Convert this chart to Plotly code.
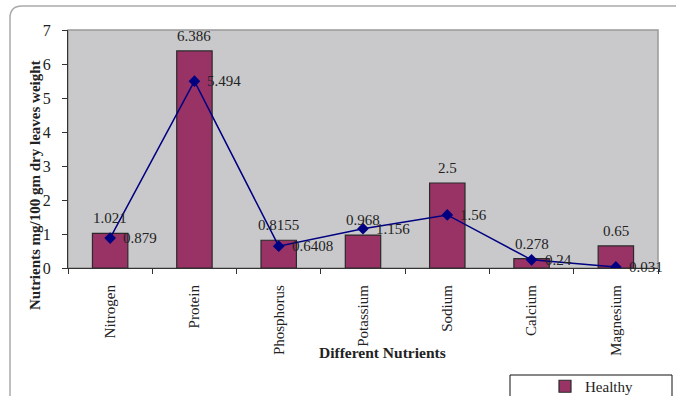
import plotly.graph_objects as go

# Nutrient content (mg/100 gm dry leaves weight)
nutrients = ["Nitrogen", "Protein", "Phosphorus", "Potassium", "Sodium", "Calcium", "Magnesium"]
healthy = [1.021, 6.386, 0.8155, 0.968, 2.5, 0.278, 0.65]
diseased = [0.879, 5.494, 0.6408, 1.156, 1.56, 0.24, 0.031]
healthy_labels = ["1.021", "6.386", "0.8155", "0.968", "2.5", "0.278", "0.65"]
diseased_labels = ["0.879", "5.494", "0.6408", "1.156", "1.56", "0.24", "0.031"]
y_ticks = [0, 1, 2, 3, 4, 5, 6, 7]

W, H = 676, 396
ML, MR, MT, MB = 68, 18, 30, 128
PW, PH = W - ML - MR, H - MT - MB


def px_x(x):
    return (x - ML) / PW


def px_y(y):
    return (H - MB - y) / PH


SERIF = "Liberation Serif, Times New Roman, serif"
TXT = "#222222"
FS = 15

fig = go.Figure()
fig.add_trace(go.Bar(
    x=nutrients, y=healthy, name="Healthy",
    marker=dict(color="#993366", line=dict(color="#2a2a2a", width=1.2)),
))
fig.add_trace(go.Scatter(
    x=nutrients, y=diseased, name="Diseased", mode="lines+markers",
    line=dict(color="#000080", width=1.5),
    marker=dict(symbol="diamond", size=9, color="#000080"),
))

annotations = []
for cat, v, lab in zip(nutrients, healthy, healthy_labels):
    annotations.append(dict(x=cat, y=v, text=lab, showarrow=False, xanchor="center",
                            yanchor="bottom", yshift=5, font=dict(family=SERIF, size=FS, color=TXT)))
for cat, v, lab in zip(nutrients, diseased, diseased_labels):
    annotations.append(dict(x=cat, y=v, text=lab, showarrow=False, xanchor="left",
                            yanchor="middle", xshift=11, font=dict(family=SERIF, size=FS, color=TXT)))
annotations.append(dict(xref="paper", yref="paper", x=px_x(35), y=px_y(185), textangle=-90,
                        text="<b>Nutrients mg/100 gm dry leaves weight</b>", showarrow=False,
                        xanchor="center", yanchor="middle", font=dict(family=SERIF, size=FS, color=TXT)))
annotations.append(dict(xref="paper", yref="paper", x=px_x(382), y=px_y(352),
                        text="<b>Different Nutrients</b>", showarrow=False,
                        xanchor="center", yanchor="middle", font=dict(family=SERIF, size=15.5, color=TXT)))

shapes = [
    # outer chart frame with rounded top-left corner
    dict(type="path", xref="paper", yref="paper",
         path=f"M {px_x(700)},{px_y(6)} L {px_x(22)},{px_y(6)} Q {px_x(10)},{px_y(6)} {px_x(10)},{px_y(18)} L {px_x(10)},{px_y(410)}",
         line=dict(color="#aaaaaa", width=1.5), layer="below"),
    # plot area border
    dict(type="rect", xref="paper", yref="paper", x0=0, x1=1, y0=0, y1=1,
         line=dict(color="#999999", width=1.5), layer="below"),
    # legend box
    dict(type="rect", xref="paper", yref="paper", x0=px_x(510), x1=px_x(672), y0=px_y(430), y1=px_y(375),
         line=dict(color="#111111", width=1), fillcolor="white", layer="below"),
]

fig.update_layout(
    width=W, height=H,
    margin=dict(l=ML, r=MR, t=MT, b=MB, pad=0, autoexpand=False),
    paper_bgcolor="white", plot_bgcolor="#c9c9cb",
    bargap=0.58,
    showlegend=True,
    legend=dict(x=px_x(545), y=px_y(370), xanchor="left", yanchor="top",
                bgcolor="rgba(0,0,0,0)", borderwidth=0,
                font=dict(family=SERIF, size=FS, color=TXT), tracegroupgap=0),
    annotations=annotations,
    shapes=shapes,
    font=dict(family=SERIF, size=FS, color=TXT),
)
fig.update_xaxes(type="category", range=[-0.5, 6.5], showgrid=False, tickangle=-90,
                 showline=True, linecolor="#333333", linewidth=1.2, automargin=False,
                 ticks="outside", ticklen=5, tickcolor="#333333", tickson="boundaries",
                 ticklabelstandoff=10,
                 tickfont=dict(family=SERIF, size=FS, color=TXT))
fig.update_yaxes(range=[0, 7], tickvals=y_ticks, showgrid=False, zeroline=False,
                 showline=True, linecolor="#333333", linewidth=1.2, automargin=False,
                 ticks="outside", ticklen=5, tickcolor="#333333",
                 ticklabelstandoff=8,
                 tickfont=dict(family=SERIF, size=16, color=TXT))

fig.write_html("out.html")
